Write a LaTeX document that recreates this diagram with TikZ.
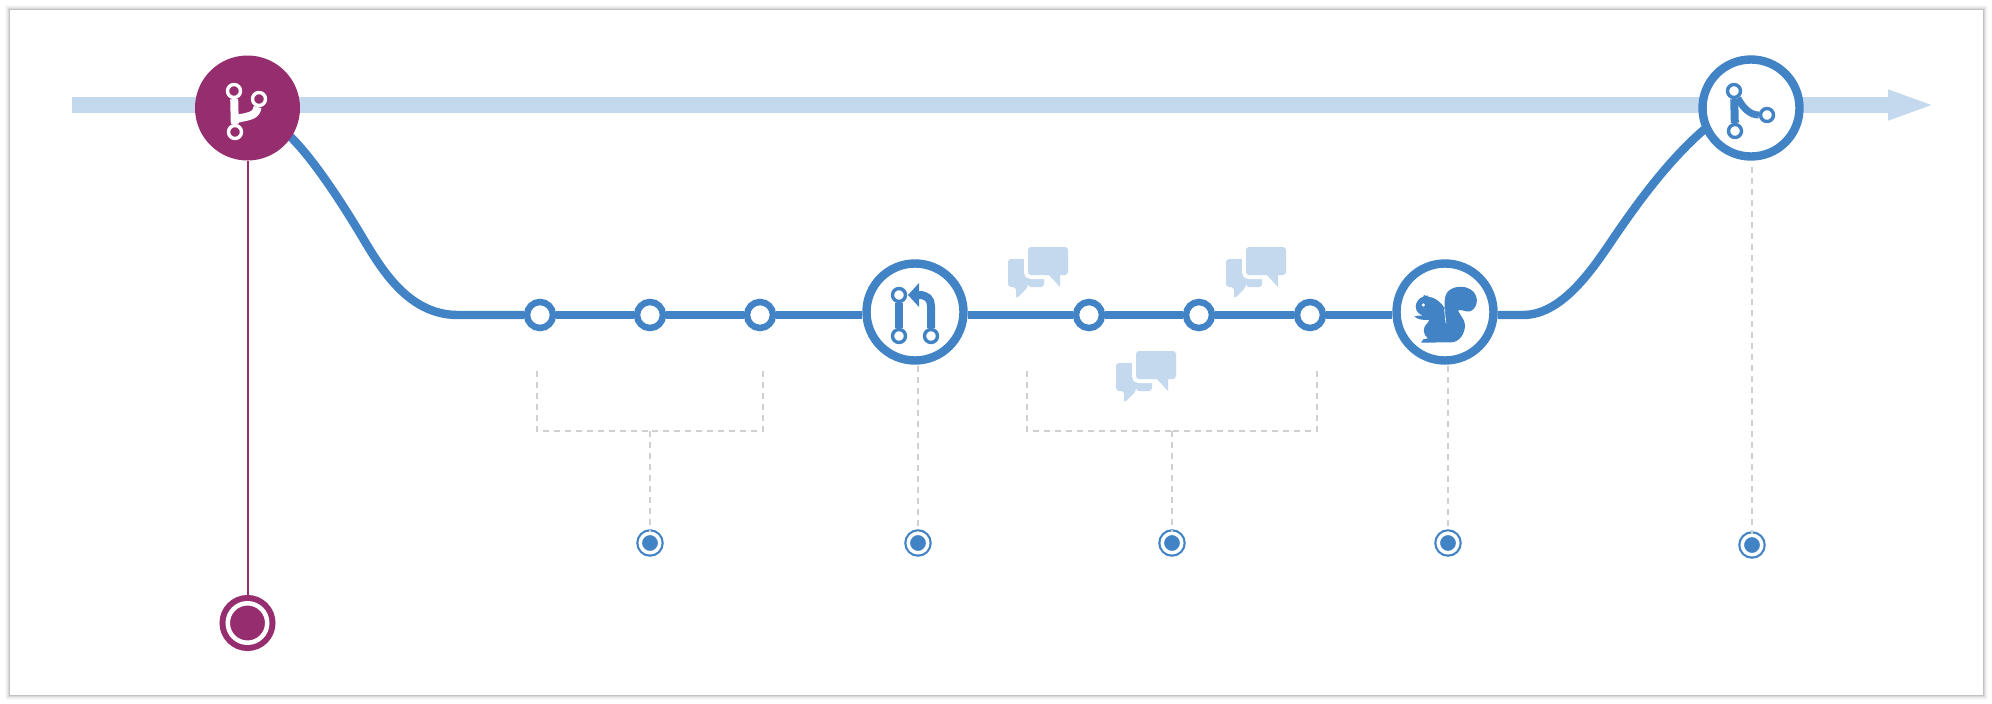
\documentclass[tikz,border=0pt]{standalone}
\usetikzlibrary{arrows.meta,backgrounds}

\definecolor{flowblue}{HTML}{4283C6}
\definecolor{flowlight}{HTML}{C5D9EE}
\definecolor{flowpurple}{HTML}{952D6F}
\definecolor{guidegray}{HTML}{D0D0D0}

\tikzset{
  branchline/.style={draw=flowblue, line width=8.4pt},
  trunkline/.style={draw=flowlight, line width=16pt},
  guide/.style={draw=guidegray, line width=2pt, dash pattern=on 6pt off 5pt},
  bigcommit/.style={circle, draw=flowblue, line width=8.4pt, fill=white, inner sep=0pt, minimum size=97pt},
  commit/.style={circle, draw=flowblue, line width=6.5pt, fill=white, inner sep=0pt, minimum size=26pt},
  note/.style={circle, draw=flowblue, fill=flowblue, line width=2.2pt, double=white, double distance=3.5pt, inner sep=0pt, minimum size=19.5pt},
  iconring/.style={circle, line width=3.4pt, inner sep=0pt, minimum size=13pt},
  iconline/.style={line width=8pt},
  bubbles/.pic={
    \fill[flowlight, rounded corners=3pt] (0,12) -- (36,12) -- (36,40) -- (20,40) -- (20,40) -- (8,52) -- (8,40) -- (0,40) -- cycle;
    \path[fill=flowlight, preaction={draw=white, line width=8pt}, rounded corners=3pt] (20,0) rectangle (60,28);
    \fill[flowlight] (40,27) -- (52,40) -- (52,27) -- cycle;
  }
}

\begin{document}
\begin{tikzpicture}[x=1pt, y=-1pt]
  \useasboundingbox (0,0) rectangle (1992,704);

  % nodes of the flow
  \node[circle, fill=flowpurple, inner sep=0pt, minimum size=105pt] (fork) at (247.5,108) {};
  \node[circle, draw=flowpurple, fill=flowpurple, line width=6pt, double=white, double distance=4.5pt, inner sep=0pt, minimum size=39.5pt] (finish) at (247.5,623) {};
  \node[bigcommit] (pull) at (915,312) {};
  \node[bigcommit] (review) at (1445,312) {};
  \node[bigcommit] (merge) at (1751,108) {};
  \foreach \name/\x in {ca/540, cb/650, cc/760, cd/1089, ce/1199, cf/1310}
    \node[commit] (\name) at (\x,315) {};

  % notes under the flow
  \node[note] (notea) at (650,543) {};
  \node[note] (noteb) at (918,543) {};
  \node[note] (notec) at (1172,543) {};
  \node[note] (noted) at (1448,543) {};
  \node[note] (notee) at (1752,545) {};

  \begin{scope}[on background layer]
    % paper and its shadow
    \fill[white] (0,0) rectangle (1992,704);
    \foreach \d/\c in {5/2, 4/5, 3/9, 2/15, 1/24}
      \draw[black!\c, line width=1pt] (10-\d,10-\d) rectangle (1982+\d,694+\d);
    \coordinate (trunkstart) at (72,105);
    \coordinate (trunkend) at (1936,105);
    \draw[trunkline, -{Triangle[length=48pt, width=27pt]}] (trunkstart) -- (trunkend);
    % branch
    \draw[branchline] (fork.center) -- (fork.-34) .. controls (312,158) and (338,197) .. (358,230)
      .. controls (378,263) and (405,315) .. (458,315) -- (ca);
    \draw[branchline] (ca) -- (cb);
    \draw[branchline] (cb) -- (cc);
    \draw[branchline] (cc) -- (cc -| pull.west);
    \draw[branchline] (pull.east |- cd) -- (cd);
    \draw[branchline] (cd) -- (ce);
    \draw[branchline] (ce) -- (cf);
    \draw[branchline] (cf) -- (cf -| review.west);
    \draw[branchline] (review.east |- cf) -- (1523,315) .. controls (1565,315) and (1597,262) .. (1617,233)
      .. controls (1637,204) and (1667,162) .. (merge.205) -- (merge.center);
  \end{scope}

  \draw[flowpurple, line width=2pt] (fork) -- (finish);

  % dashed guides
  \coordinate (joina) at (650,431);
  \coordinate (joinb) at (1172,431);
  \draw[guide] (537,371) |- (joina);
  \draw[guide] (763,371) |- (joina);
  \draw[guide] (joina) -- (notea);
  \draw[guide] (1027,371) |- (joinb);
  \draw[guide] (1317,371) |- (joinb);
  \draw[guide] (joinb) -- (notec);
  \draw[guide] (918,366) -- (noteb);
  \draw[guide] (1448,366) -- (noted);
  \draw[guide] (1752,167) -- (notee);

  % speech bubbles
  \pic at (1008,247) {bubbles};
  \pic at (1226,247) {bubbles};
  \pic at (1116,351) {bubbles};

  % fork icon
  \node[iconring, draw=white] (forka) at (234,91) {};
  \node[iconring, draw=white] (forkb) at (259,99) {};
  \node[iconring, draw=white] (forkc) at (235,132) {};
  \draw[white, iconline] (forka) -- (forkc);
  \draw[white, iconline] (forkb) .. controls (256,116) and (250,116) .. (236,119);

  % pull request icon
  \node[iconring, draw=flowblue] (pulla) at (899,295) {};
  \node[iconring, draw=flowblue] (pullb) at (899,336) {};
  \node[iconring, draw=flowblue] (pullc) at (931,336) {};
  \coordinate (pulltip) at (908,295);
  \draw[flowblue, iconline] (pulla) -- (pullb);
  \draw[flowblue, iconline] (pullc) -- (931,306) .. controls (931,299) and (927,295) .. (919,295);
  \fill[flowblue] (pulltip) -- (919,283) -- (919,307) -- cycle;

  % squirrel, traced
  \begin{scope}[shift={(1370,240)}, x=0.3333pt, y=-0.3333pt]
    \fill[flowblue] (224,205) .. controls (223,185) and (224,170) .. (230,160)
      .. controls (240,140) and (285,130) .. (310,155)
      .. controls (328,175) and (322,205) .. (300,214)
      .. controls (285,218) and (275,205) .. (264,212)
      .. controls (270,225) and (285,240) .. (285,255)
      .. controls (285,280) and (270,305) .. (245,307)
      -- (153,308) -- (160,298) -- (174,295)
      .. controls (160,285) and (155,265) .. (172,250)
      -- (178,240) -- (165,240) .. controls (155,240) and (145,238) .. (133,230)
      .. controls (145,225) and (155,226) .. (168,232)
      .. controls (150,225) and (137,215) .. (137,200)
      .. controls (137,185) and (150,172) .. (160,170) -- (162,165) -- (168,168) -- (172,166)
      -- (175,170) .. controls (195,172) and (215,188) .. (224,205) -- cycle;
    \fill[white] (160,195) circle (5);
    \draw[white, line width=0.6pt] (224,205) .. controls (224,220) and (226,235) .. (228,250);
  \end{scope}

  % merge icon
  \node[iconring, draw=flowblue] (mergea) at (1734,91) {};
  \node[iconring, draw=flowblue] (mergeb) at (1735,131) {};
  \node[iconring, draw=flowblue] (mergec) at (1767,115) {};
  \draw[flowblue, iconline] (mergea) -- (mergeb);
  \draw[flowblue, line width=7pt] (mergea) .. controls (1743,108) and (1750,115) .. (mergec);
\end{tikzpicture}
\end{document}
